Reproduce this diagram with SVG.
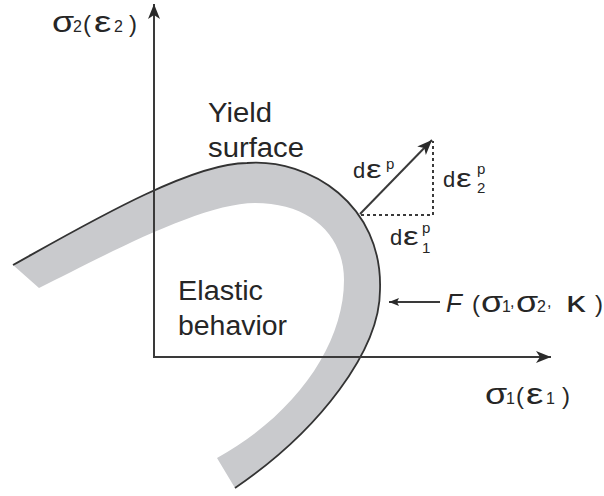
<svg xmlns="http://www.w3.org/2000/svg" width="604" height="496" viewBox="0 0 604 496">
<style>
.t{font-family:"Liberation Sans",Arial,sans-serif;fill:#262626}
.lbl{font-size:27px}
.ax{stroke:#3a3a3a;stroke-width:2;fill:none}
.dot{stroke:#3a3a3a;stroke-width:2;stroke-dasharray:3 3;fill:none}
.g{font-family:"Liberation Sans",Arial,sans-serif;font-size:30px;fill:#262626}
.e{font-family:"Liberation Sans",Arial,sans-serif;font-size:26px;fill:#262626}
.s{font-size:16px}
.m{font-size:24px}
.sp{font-size:15px}
</style>
<defs>
<marker id="ah" viewBox="-15 -7 16 14" refX="0" refY="0" markerWidth="16" markerHeight="14" markerUnits="userSpaceOnUse" orient="auto">
<path d="M0,0 L-15,-6 L-11,0 L-15,6 Z" fill="#2a2a2a"/>
</marker>
<marker id="ahs" viewBox="-11 -5 12 10" refX="0" refY="0" markerWidth="12" markerHeight="10" markerUnits="userSpaceOnUse" orient="auto">
<path d="M0,0 L-10,-4 L-8,0 L-10,4 Z" fill="#2a2a2a"/>
</marker>
</defs>
<rect width="604" height="496" fill="#ffffff"/>
<g id="yield-band">
<path d="M13,265 C83,226 190,163 247,163 C310,158 383,205 380,290 C380,350 320,430 235,488 L217,458 C295,415 344,345 344,280 C344,235 310,203 255,203 C200,203 100,258 39,288 Z" fill="#c9cacd"/>
<path d="M13,265 C83,226 190,163 247,163 C310,158 383,205 380,290 C380,350 320,430 235,488" fill="none" stroke="#333" stroke-width="1.8"/>
</g>
<g id="connectors">
<path class="ax" d="M154,357 L154,4" marker-end="url(#ah)"/>
<path class="ax" d="M153,357 L551,357" marker-end="url(#ah)"/>
<path class="ax" d="M360,214 L432,140" marker-end="url(#ah)"/>
<path class="dot" d="M361,215 L433,215 L433,141"/>
<path class="ax" stroke-width="1.6" d="M440,302 L389,302" marker-end="url(#ahs)"/>
</g>
<g id="label-sigma2">
<text class="g" transform="translate(52,32) scale(1.2,1)">σ</text>
<text class="t m" y="32"><tspan x="73" class="s">2</tspan><tspan x="83">(</tspan></text>
<text class="g" transform="translate(94,32) scale(1.3,1)">ε</text>
<text class="t m" y="32"><tspan x="114" class="s">2</tspan><tspan x="129">)</tspan></text>
</g>
<g id="label-sigma1">
<text class="g" transform="translate(485,404) scale(1.2,1)">σ</text>
<text class="t m" y="404"><tspan x="506" class="s">1</tspan><tspan x="516">(</tspan></text>
<text class="g" transform="translate(526,404) scale(1.3,1)">ε</text>
<text class="t m" y="404"><tspan x="546" class="s">1</tspan><tspan x="562">)</tspan></text>
</g>
<g id="label-yield">
<text class="t lbl" x="208" y="122" textLength="64" lengthAdjust="spacingAndGlyphs">Yield</text>
<text class="t lbl" x="208" y="157" textLength="96" lengthAdjust="spacingAndGlyphs">surface</text>
</g>
<g id="label-elastic">
<text class="t lbl" x="178" y="300" textLength="85" lengthAdjust="spacingAndGlyphs">Elastic</text>
<text class="t lbl" x="178" y="335" textLength="109" lengthAdjust="spacingAndGlyphs">behavior</text>
</g>
<g id="label-F">
<text class="t m" y="312"><tspan x="446" font-style="italic" font-size="26">F</tspan><tspan x="472">(</tspan></text>
<text class="g" transform="translate(481,312) scale(1.2,1)">σ</text>
<text class="t s" y="312"><tspan x="502">1</tspan><tspan x="510" y="307">,</tspan></text>
<text class="g" transform="translate(516,312) scale(1.2,1)">σ</text>
<text class="t s" y="312"><tspan x="537">2</tspan><tspan x="547" y="307">,</tspan></text>
<text class="g" transform="translate(566,312) scale(1.3,1)">κ</text>
<text class="t m" x="595" y="312">)</text>
</g>
<g id="label-deps">
<text class="t" x="353" y="178" font-size="22">d</text>
<text class="e" transform="translate(366,178) scale(1.35,1)">ε</text>
<text class="t sp" x="386" y="169">p</text>
</g>
<g id="label-deps2">
<text class="t" x="443" y="187" font-size="22">d</text>
<text class="e" transform="translate(456,187) scale(1.35,1)">ε</text>
<text class="t sp" y="174"><tspan x="477">p</tspan><tspan x="477" y="193">2</tspan></text>
</g>
<g id="label-deps1">
<text class="t" x="390" y="245" font-size="22">d</text>
<text class="e" transform="translate(403,245) scale(1.35,1)">ε</text>
<text class="t sp" y="233"><tspan x="422">p</tspan><tspan x="422" y="253">1</tspan></text>
</g>
</svg>
